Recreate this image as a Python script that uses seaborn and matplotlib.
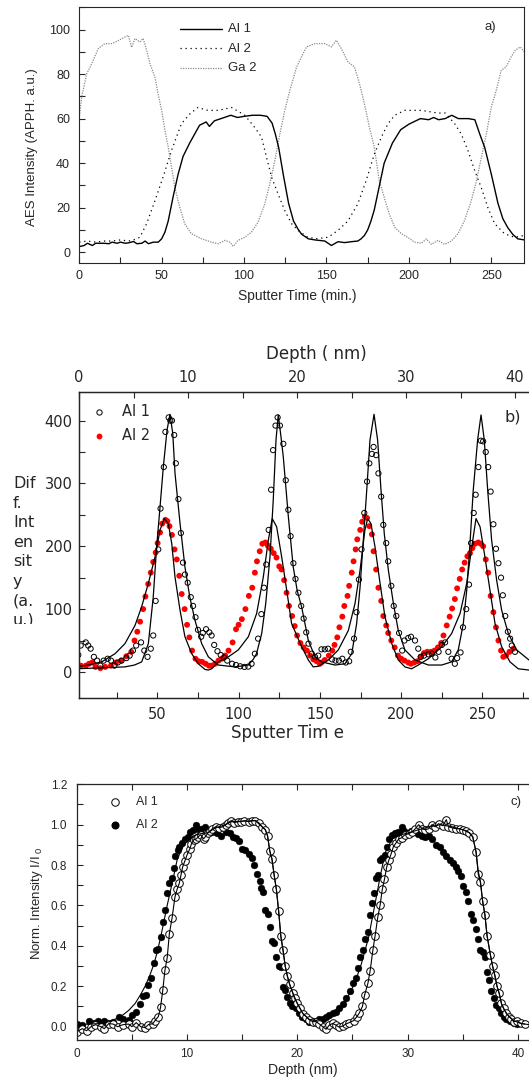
import numpy as np
import pandas as pd
import matplotlib
matplotlib.use("Agg")
import matplotlib.pyplot as plt
import seaborn as sns
from matplotlib.ticker import MultipleLocator
from matplotlib.lines import Line2D
from matplotlib.transforms import Bbox

sns.set_style("ticks")
plt.rcParams['font.family'] = ['Liberation Sans', 'DejaVu Sans']
plt.rcParams['mathtext.fontset'] = 'custom'
plt.rcParams['mathtext.rm'] = 'Liberation Sans'
plt.rcParams['mathtext.it'] = 'Liberation Sans:italic'

# ---------------- Panel a : AES intensity vs sputter time ----------------
a_al1 = [(0,2.5),(3,3),(5,4),(8,3),(10,4),(13,4),(15,4),(18,3.8),(20,4.5),(23,4),(25,4.5),(28,4),
         (30,4.2),(33,4.8),(35,3.8),(38,4),(40,5),(42,3.8),(45,4.5),(48,4.5),(50,6),(52,9),(54,14),
         (57,25),(60,35),(63,43),(67,49),(70,53),(73,57),(77,58.5),(79,56.5),(82,59),(86,60),(92,61.5),
         (96,60.5),(100,61),(105,61.5),(110,61.5),(114,61),(117,58),(119,53),(121,47),(124,34),(127,22),
         (130,14),(133,10),(135,8),(139,6),(143,5.5),(149,5),(153,3),(157,4.7),(161,4.3),(165,4.7),
         (169,5),(171,6),(173,7.5),(175,10),(177,14),(179,19),(181,26),(185,40),(190,49),(195,55),
         (200,57.5),(207,60),(212,59.5),(215,60.5),(218,59.5),(222,60),(226,61.5),(230,60),(236,60),
         (240,59.5),(243,53),(246,47),(250,35),(254,22),(257,15),(260,11),(263,8),(266,6),(270,5.5)]
a_al2 = [(0,4.5),(5,5),(10,4.5),(15,5),(20,5),(25,5.5),(30,5),(33,5.5),(36.8,6.7),(40.9,12.8),(45.9,23),
         (51,34),(56,45.7),(59,51.7),(62,57.7),(67,62),(72,65),(78,63.7),(84.3,63.7),(92.4,65),(100.5,61.5),
         (106.5,56),(110.6,51.7),(113.6,42.7),(116.7,33.7),(120.7,26),(124.7,18.7),(128.8,12.8),(132.8,9.8),
         (138,7),(143,6),(151,6.7),(157,9.8),(163,14),(169,21.7),(174,32),(179,44),(183.3,51.7),(187.3,57.7),
         (191.4,61.5),(197.5,63.7),(207.6,63.7),(217.6,62.5),(222,62.5),(227.8,57.7),(231.8,53),(235.8,45.7),
         (239.9,36.7),(243.9,29),(247.9,20),(252,12.8),(258,8.3),(264,6.7),(270,7.5)]
a_ga2 = [(0,60),(1.5,69.7),(4.5,80),(7.6,84.7),(11.6,91.5),(15.6,93.7),(19.7,93.7),(23.7,95),(27.8,96.7),
         (29.8,97.4),(31.8,92),(33.8,96),(36.8,94.4),(38.8,96),(40.9,90.7),(42.9,84.7),(45.9,78.7),(47.9,71),
         (50,63.7),(52,54.7),(54,47.2),(56,38.2),(58,29.2),(61,20.2),(64,12.8),(68,8.3),(74.2,6),(80.3,4.5),
         (84.3,3.8),(88.4,5.3),(91.4,4.5),(93.4,2.6),(96.4,5.3),(100.5,6.7),(104.5,9),(108.5,13.5),(112.6,21.7),
         (115.6,30.7),(118.7,41.2),(121.7,53),(124.7,63.7),(127.8,72.7),(131.8,83),(134.8,87.7),(137.9,92.2),
         (143,93.7),(149,93.7),(153,92.2),(156,95.2),(159,91.5),(163,85.4),(167,83.2),(170,75.7),(173,66.7),
         (176,56.2),(179,47.2),(182,32.2),(185,24.7),(188,17.3),(191.4,11.2),(195.5,8.3),(199.5,6.5),
         (203.5,4.5),(207.6,4),(210.6,6),(213.6,3.5),(217.6,5.3),(221.7,3.5),(225.8,5),(229.8,8.3),
         (233.8,14.3),(237.9,23.2),(241,32.2),(244,42.7),(247,53.2),(250,65.2),(253,72.7),(256,81.7),
         (259,83.2),(262,87.7),(264.5,90.7),(267.6,92.2),(270,90)]
a_labels = ["Al 1", "Al 2", "Ga 2"]

# ---------------- Panel b : differentiated intensity ----------------
b_al1 = [(1.4,27),(2.9,42),(6,47),(7.5,42),(9,37),(11,24),(13,18),(15,10),(17,18),(19.5,21),(21.5,18),
         (23.6,10),(25.7,15),(28,18),(31,22),(33,26),(35,34),(37,42),(40,47),(42,34),(44,24),(46,37),
         (47.5,58),(49,113),(50.6,195),(52,260),(54,326),(55,382),(57,405),(58,400),(59,400),(60.4,377),
         (61.4,332),(63,275),(64.5,221),(65.8,174),(67,155),(68.7,142),(70.6,119),(72,105),(73.5,87),
         (75,67),(77,56),(78,62),(80,68),(82,63),(83.4,58),(85,43),(87,33),(89,27),(91,23),(93,18),(96,13),
         (98.4,11),(101,9),(103.6,8),(106,8.5),(108,13),(110,29),(112,53),(114,92),(115.6,134),(117,171),
         (118.5,226),(120,290),(121.2,353),(122.7,392),(124,405),(125.4,392),(127.5,363),(129,305),
         (130.6,258),(132,216),(133.7,173),(135,148),(136.8,126),(138.5,105),(140,85),(141.6,63),(143,45),
         (145,29),(147,24),(149,26),(151,36),(153,36),(155,37),(157.5,20),(159.6,18),(161.7,18),(163.8,21),
         (165.9,15),(168,17),(169,32),(171,53),(172.5,95),(174,147),(175.6,195),(177.3,253),(179,303),
         (180.4,332),(182,347),(183,358),(184.6,345),(186,316),(187.7,279),(189,234),(190.8,205),(192,176),
         (193.9,137),(195.4,105),(197,89),(198.7,62),(200.6,34),(202,50),(204.3,54),(206,56),(208.5,50),
         (210.5,37),(212,24),(214,26),(216.8,28),(218.8,29),(221,23),(223,32),(225,43),(227,47),(229,32),
         (231,21),(233,13),(234.4,22),(236.5,31),(238,71),(240,100),(241.7,139),(243,205),(244.6,253),
         (245.8,282),(247.5,326),(249,368),(250.4,367),(252,350),(253.5,326),(255,287),(256.7,235),
         (258.3,196),(259.8,173),(261.4,150),(262.5,122),(264,89),(265.6,64),(267,53),(268,42),(270,32)]
b_al2 = [(3,10),(6,10),(8,13),(10,15),(12,8),(15,6),(18,8),(21.5,10),(24.6,15),(27.8,18),(31,25),(34,32),
         (36,50),(37.7,64),(39.4,80),(41.3,100),(42.7,120),(44.4,140),(46,158),(47.5,175),(49,190),(50.2,205),
         (51.7,222),(53,236),(55,242),(56.2,240),(57.5,232),(59,218),(60.6,195),(62,179),(63.5,153),(65,124),
         (66.8,100),(68.3,75),(69.7,55),(71.4,34),(73.5,21),(75.5,17),(77.6,16),(79.7,13),(81.8,10),
         (83.4,10),(85.5,13),(87.6,18),(89.7,21),(91.7,26),(93.8,34),(96.3,47),(98.4,68),(100,75),(102,84),
         (104.2,100),(106.3,121),(108.4,134),(110,158),(111.3,176),(113,192),(114.6,204),(116.5,206),
         (118,201),(119.8,196),(121.6,189),(123.3,182),(125,168),(126.4,163),(128,146),(129.5,126),(131,105),
         (132.9,89),(134.5,73),(136,58),(138,46),(140,39),(142,34),(144,26),(146,20),(148,17),(150,13),
         (151,15),(153,19),(155.5,26),(157.6,34),(159,43),(160.7,55),(162,71),(163.8,88),(165,105),(167,121),
         (168,137),(169.6,158),(170.7,176),(172,195),(173,211),(174.8,226),(176,239),(177.7,247),(179,245),
         (180.4,232),(182,219),(183,192),(184.6,163),(186,134),(187.7,113),(189,89),(190.8,74),(192,62),
         (193.9,50),(196,39),(198,26),(200,21),(202,18),(204.3,15),(206,13),(208,15),(210,17),(212,24),
         (214,30),(216,32),(218.4,32),(220.5,34),(222.6,39),(224.6,46),(226,58),(228,74),(229.8,88),
         (231.3,101),(233,116),(234.4,133),(236,148),(237.5,163),(239,174),(240.7,184),(242.3,189),
         (243.8,197),(245.4,204),(247.4,206),(249,204),(250.4,200),(252,179),(253.5,158),(255,121),
         (256.7,95),(258.3,71),(259.8,50),(261.4,34),(262.8,24),(264.5,26),(266.6,32),(269,37)]
b_fit1 = [(0,5),(10,6),(20,7),(30,8),(36,11),(40.4,16),(44.5,45),(47.5,119),(49.6,199),(51.7,263),
          (53.7,326),(56,385),(57.8,410),(59.5,380),(60.9,316),(64,236),(67,167),(70,119),(73.2,82),
          (77.3,45),(81.4,24),(87.5,11),(97.8,8),(106,11),(109,20),(111,29),(114.2,61),(116.7,109),
          (119.3,183),(121.3,273),(123,369),(124.4,409),(125.8,380),(127.5,342),(130.6,247),(133.6,167),
          (136,130),(138.8,103),(142.9,50),(147,24),(151,16),(159.3,11),(165.4,13),(169.6,29),(172.6,77),
          (174.7,135),(176.7,210),(178.8,289),(180.8,369),(183.3,410),(185.5,369),(187.6,289),(189.6,220),
          (192.1,162),(195.2,109),(198.2,66),(202.3,35),(208.5,19),(216.7,11),(224.9,11),(231,16),
          (235.1,35),(238.2,77),(240.3,130),(242.3,204),(244.3,289),(247,369),(249.1,409),(251.1,369),
          (253.2,289),(255.6,210),(258.7,146),(261.8,98),(265.9,61),(271,35),(278.6,19)]
b_fit2 = [(0,8),(7.6,11),(15.8,16),(24,29),(30.1,45),(36.3,74),(40.4,104),(44.5,141),(48.6,183),(51.7,226),
          (54.3,244),(56.8,236),(58.9,204),(60.9,151),(64,98),(67,56),(71.2,29),(75.2,13),(79.3,4),(81.4,3),
          (83.4,5),(87.5,16),(93.7,24),(99.8,35),(106,56),(111.1,93),(115.2,151),(118.3,210),(120.7,244),
          (123.4,231),(126.5,183),(129.6,130),(132.6,77),(138.8,40),(142.9,19),(145.9,8),(149,9),(155.2,19),
          (161.3,35),(167.5,66),(171.6,109),(174.7,162),(177.7,226),(179.4,244),(181.4,236),(183.9,199),
          (187,141),(190,88),(194.2,45),(198.2,19),(202.3,8),(206.4,5),(210.5,11),(216.7,21),(224.9,40),
          (231,61),(236.2,93),(240.3,141),(243.4,199),(246,244),(248.5,231),(251.5,183),(254.6,130),
          (257.7,77),(261.8,40),(266.9,16),(272,5),(278.6,3)]
b_labels = ["Al 1", "Al 2"]

# ---------------- Panel c : normalised intensity vs depth ----------------
c_al1 = [(0,-0.025),(0.5,-0.01),(0.9,-0.02),(1.3,0),(1.7,0.01),(2.2,0),(2.5,-0.01),(2.9,0.015),(3.3,0.013),
         (3.7,0),(4.2,0.01),(4.7,0.013),(5,0),(5.4,0.02),(5.8,0),(6.2,-0.005),(6.5,0.01),(6.9,0.015),(7.1,0.03),
         (7.4,0.05),(7.6,0.095),(7.8,0.18),(8,0.28),(8.2,0.34),(8.4,0.46),(8.65,0.54),(8.9,0.64),(9.1,0.68),
         (9.3,0.71),(9.45,0.75),(9.6,0.79),(9.8,0.82),(10,0.85),(10.25,0.88),(10.4,0.905),(10.6,0.925),
         (10.85,0.93),(11,0.94),(11.25,0.95),(11.5,0.93),(11.65,0.94),(11.9,0.96),(12.1,0.97),(12.3,0.98),
         (12.6,0.99),(12.9,0.985),(13.25,0.99),(13.5,1.0),(13.7,1.01),(14,1.02),(14.3,1.01),(14.6,1.015),
         (14.9,1.015),(15.2,1.02),(15.6,1.015),(15.9,1.02),(16.2,1.02),(16.5,1.01),(16.8,0.99),(17.1,0.975),
         (17.3,0.945),(17.5,0.87),(17.7,0.83),(17.9,0.75),(18.1,0.68),(18.3,0.575),(18.5,0.45),(18.7,0.38),
         (18.9,0.30),(19.1,0.25),(19.3,0.21),(19.6,0.165),(19.75,0.14),(20,0.115),(20.25,0.09),(20.5,0.065),
         (20.8,0.05),(21.1,0.033),(21.4,0.025),(21.7,0.025),(22,0.013),(22.3,0),(22.6,-0.013),(22.9,0.008),
         (23.2,0.016),(23.5,0.008),(23.8,-0.003),(24.1,0.003),(24.4,0.013),(24.7,0.02),(25.1,0.03),
         (25.4,0.05),(25.6,0.066),(25.9,0.1),(26.1,0.157),(26.4,0.215),(26.6,0.277),(26.85,0.38),(27.05,0.45),
         (27.3,0.545),(27.5,0.6),(27.7,0.68),(27.9,0.73),(28.1,0.79),(28.3,0.825),(28.5,0.855),(28.7,0.89),
         (28.95,0.91),(29.2,0.93),(29.45,0.935),(29.75,0.95),(30.1,0.955),(30.4,0.965),(30.7,0.98),(31,1.0),
         (31.3,0.98),(31.6,0.975),(31.9,0.98),(32.2,1.0),(32.5,0.99),(32.8,1.005),(33.2,0.995),(33.5,1.025),
         (33.7,0.99),(34,0.985),(34.4,0.98),(34.7,0.98),(35,0.975),(35.3,0.97),(35.6,0.96),(35.9,0.94),
         (36.2,0.865),(36.4,0.755),(36.6,0.715),(36.8,0.62),(37,0.555),(37.2,0.45),(37.5,0.355),(37.7,0.3),
         (37.9,0.255),(38.1,0.2),(38.3,0.165),(38.5,0.115),(38.7,0.09),(38.95,0.066),(39.2,0.05),(39.4,0.04),
         (39.6,0.025),(39.95,0.03),(40.25,0.016),(40.6,0.013)]
c_al2 = [(0,0.013),(0.5,0.008),(1.1,0.03),(1.6,0.016),(1.9,0.03),(2.5,0.03),(2.8,0.02),(3.3,0.025),(3.8,0.05),
         (4.2,0.036),(4.7,0.033),(5,0.058),(5.4,0.074),(5.7,0.112),(6,0.152),(6.3,0.157),(6.5,0.206),
         (6.75,0.243),(7,0.314),(7.2,0.38),(7.4,0.383),(7.6,0.446),(7.85,0.52),(8,0.58),(8.2,0.66),(8.4,0.71),
         (8.6,0.735),(8.8,0.784),(8.95,0.845),(9.15,0.875),(9.3,0.89),(9.55,0.91),(9.8,0.93),(10.05,0.94),
         (10.3,0.966),(10.55,0.974),(10.8,1.0),(11,0.977),(11.3,0.98),(11.6,0.99),(11.9,0.96),(12.3,0.965),
         (12.7,0.957),(13.1,0.944),(13.5,0.966),(13.9,0.957),(14.2,0.94),(14.4,0.933),(14.7,0.92),(15,0.878),
         (15.25,0.875),(15.6,0.855),(15.85,0.837),(16.1,0.8),(16.3,0.756),(16.6,0.723),(16.7,0.685),
         (16.9,0.668),(17.1,0.578),(17.3,0.56),(17.5,0.495),(17.7,0.426),(17.9,0.416),(18.1,0.343),(18.3,0.3),
         (18.5,0.297),(18.7,0.198),(18.9,0.18),(19.1,0.145),(19.3,0.116),(19.55,0.102),(19.85,0.09),
         (20.15,0.066),(20.45,0.05),(20.75,0.04),(21.05,0.025),(21.4,0.03),(21.7,0.025),(22,0.036),(22.3,0.04),
         (22.6,0.05),(22.9,0.058),(23.2,0.066),(23.5,0.074),(23.8,0.09),(24.1,0.112),(24.45,0.14),(24.75,0.178),
         (25.05,0.215),(25.3,0.24),(25.5,0.289),(25.7,0.347),(25.95,0.38),(26.15,0.432),(26.4,0.47),
         (26.55,0.553),(26.75,0.61),(26.95,0.66),(27.15,0.735),(27.3,0.75),(27.5,0.825),(27.7,0.834),
         (27.95,0.85),(28.15,0.89),(28.35,0.928),(28.6,0.95),(28.85,0.957),(29.15,0.966),(29.45,0.99),
         (29.65,0.97),(29.95,0.96),(30.3,0.97),(30.6,0.966),(30.9,0.955),(31.3,0.944),(31.6,0.94),(31.9,0.944),
         (32.2,0.928),(32.6,0.9),(32.9,0.89),(33.2,0.866),(33.5,0.845),(33.8,0.825),(34.1,0.81),(34.4,0.79),
         (34.6,0.77),(34.8,0.746),(35.05,0.697),(35.3,0.668),(35.5,0.62),(35.7,0.56),(35.95,0.528),
         (36.2,0.482),(36.35,0.432),(36.6,0.38),(36.8,0.37),(37,0.347),(37.2,0.272),(37.4,0.23),(37.6,0.178),
         (37.8,0.14),(38.05,0.107),(38.25,0.09),(38.5,0.066),(38.7,0.05),(38.95,0.036),(39.25,0.03),
         (39.6,0.02),(39.95,0.013)]
c_fit2 = [(0,0.01),(2,0.015),(3,0.025),(4,0.05),(4.7,0.08),(5.3,0.115),(5.8,0.16),(6.2,0.2),(6.6,0.25),
          (7,0.31),(7.3,0.37),(7.6,0.44),(7.9,0.52),(8.2,0.6),(8.65,0.71),(9.1,0.825),(9.5,0.88),(10,0.92),
          (10.6,0.945),(11.2,0.955),(11.9,0.96),(12.6,0.985),(13.5,1.0),(14,1.015),(16.2,1.02),(16.8,0.99),
          (17.1,0.975),(17.3,0.945),(17.5,0.87),(17.7,0.83),(17.9,0.75),(18.1,0.68),(18.3,0.575),(18.5,0.45),
          (18.7,0.38),(18.9,0.3),(19.1,0.25),(19.3,0.21),(19.6,0.165),(20,0.115),(20.5,0.065),(21.1,0.035),
          (21.7,0.03),(22.45,0.05),(23.1,0.065),(23.7,0.08),(24.2,0.11),(24.6,0.15),(25.2,0.215),(25.8,0.31),
          (26.45,0.44),(27.05,0.61),(27.5,0.74),(27.95,0.86),(28.6,0.93),(29.4,0.95),(30.4,0.965),(31,0.975),
          (32,0.99),(33,1.0),(34,0.99),(35,0.975),(35.6,0.96),(35.9,0.94),(36.2,0.865),(36.4,0.77),(36.6,0.715),
          (36.8,0.62),(37,0.555),(37.2,0.45),(37.5,0.355),(37.7,0.3),(37.9,0.255),(38.1,0.2),(38.3,0.165),
          (38.5,0.115),(38.7,0.09),(38.95,0.066),(39.2,0.05),(39.6,0.03),(40.25,0.016),(41,0.01)]
c_labels = ["Al 1", "Al 2"]


def df(pairs):
    return pd.DataFrame(pairs, columns=["x", "y"])


W, H = 529, 1080
fig = plt.figure(figsize=(W / 100, H / 100), dpi=100)


def rect(l, r, t, b):
    return [l / W, 1 - b / H, (r - l) / W, (b - t) / H]


LS = ['Liberation Sans']
DV = ['DejaVu Sans']

# ======================= Panel a =======================
axA = fig.add_axes(rect(79.2, 524.3, 7.3, 263.3))
sns.lineplot(data=df(a_ga2), x="x", y="y", ax=axA, color="#8a8a8a", linewidth=0.9,
             linestyle=(0, (1, 1)), estimator=None, sort=False)
sns.lineplot(data=df(a_al2), x="x", y="y", ax=axA, color="black", linewidth=0.9,
             linestyle=(0, (1, 3)), estimator=None, sort=False)
sns.lineplot(data=df(a_al1), x="x", y="y", ax=axA, color="black", linewidth=1.0,
             estimator=None, sort=False)
axA.set_xlim(0, 270)
axA.set_ylim(-5, 110)
axA.xaxis.set_major_locator(MultipleLocator(50))
axA.xaxis.set_minor_locator(MultipleLocator(25))
axA.yaxis.set_major_locator(MultipleLocator(20))
axA.yaxis.set_minor_locator(MultipleLocator(10))
axA.tick_params(which='both', direction='in', width=0.8, top=False, right=False, labelsize=9)
axA.tick_params(which='major', length=4)
axA.tick_params(which='minor', length=4)
axA.tick_params(axis='y', pad=6.5)
axA.tick_params(axis='x', pad=5)
axA.set_xlabel("Sputter Time (min.)", fontsize=10)
axA.set_ylabel("AES Intensity (APPH. a.u.)", fontsize=9.5)
axA.xaxis.label.set_va('center')
axA.yaxis.label.set_va('center')
axA.xaxis.set_label_coords(0.489, -0.128)
axA.yaxis.set_label_coords(-0.106, 0.455)
for s in axA.spines.values():
    s.set_linewidth(0.8)
# legend a
styles_a = [dict(color="black", lw=1.0, ls='-'),
            dict(color="black", lw=0.9, ls=(0, (1, 3))),
            dict(color="#8a8a8a", lw=0.9, ls=(0, (1, 1)))]
for i, (lab, st) in enumerate(zip(a_labels, styles_a)):
    yy = (263.3 - (29 + 19.5 * i)) / 256.0
    axA.add_line(Line2D([(180 - 79.2) / 445.1, (222 - 79.2) / 445.1], [yy, yy],
                        transform=axA.transAxes, **st))
    axA.text((228 - 79.2) / 445.1, yy, lab, transform=axA.transAxes, va='center',
             ha='left', fontsize=9.5)
axA.text((490 - 79.2) / 445.1, (263.3 - 27) / 256.0, "a)", transform=axA.transAxes,
         ha='center', va='center', fontsize=9.5)

# ======================= Panel b =======================
axB = fig.add_axes(rect(79, 529, 392.3, 697.7))
sns.lineplot(data=df(b_fit1), x="x", y="y", ax=axB, color="black", linewidth=0.9,
             estimator=None, sort=False)
sns.lineplot(data=df(b_fit2), x="x", y="y", ax=axB, color="black", linewidth=0.9,
             estimator=None, sort=False)
sns.scatterplot(data=df(b_al2), x="x", y="y", ax=axB, color="#ff0000", s=18,
                edgecolor="none", linewidth=0)
sns.scatterplot(data=df(b_al1), x="x", y="y", ax=axB, facecolor="none", edgecolor="black",
                s=14, linewidth=0.7)
axB.set_xlim(1.85, 278.6)
axB.set_ylim(-41, 445)
axB.xaxis.set_major_locator(MultipleLocator(50))
axB.xaxis.set_minor_locator(MultipleLocator(25))
axB.yaxis.set_major_locator(MultipleLocator(100))
axB.yaxis.set_minor_locator(MultipleLocator(50))
axB.tick_params(which='both', direction='in', width=0.8, top=False, right=False, labelsize=10.5)
axB.tick_params(which='both', length=4)
axB.tick_params(axis='y', pad=4.5)
axB.tick_params(axis='x', pad=6.5)
for lab in axB.get_xticklabels() + axB.get_yticklabels():
    lab.set_family(DV)
axB.spines['right'].set_visible(False)
for s in axB.spines.values():
    s.set_linewidth(1.0)
axB.set_xlabel("Sputter Tim e", fontsize=12, family=DV)
axB.set_ylabel("")
axB.xaxis.label.set_va('center')
axB.xaxis.set_label_coords((287.5 - 79) / 450, (697.7 - 733) / 305.4)
axBt = axB.twiny()
axBt.set_xlim(0, 41.28)
axBt.xaxis.set_major_locator(MultipleLocator(10))
axBt.xaxis.set_minor_locator(MultipleLocator(5))
axBt.tick_params(which='both', direction='in', width=0.8, length=4, labelsize=10.5, pad=5)
for lab in axBt.get_xticklabels():
    lab.set_family(DV)
axBt.spines['right'].set_visible(False)
axBt.set_xlabel("Depth ( nm)", fontsize=12, family=DV)
axBt.xaxis.label.set_va('center')
axBt.xaxis.set_label_coords((316 - 79) / 450, (697.7 - 354) / 305.4)
# legend b
bx = lambda px: (px - 79) / 450.0
by = lambda py: (697.7 - py) / 305.4
axB.add_line(Line2D([bx(99)], [by(411.7)], transform=axB.transAxes, marker='o', ls='none',
                    markersize=3.8, markerfacecolor='none', markeredgecolor='black',
                    markeredgewidth=0.7))
axB.add_line(Line2D([bx(99)], [by(435.7)], transform=axB.transAxes, marker='o', ls='none',
                    markersize=4.2, markerfacecolor='#ff0000', markeredgecolor='none'))
axB.text(bx(122), by(411.7), b_labels[0], transform=axB.transAxes, va='center', ha='left',
         fontsize=10.5, family=DV)
axB.text(bx(122), by(435.7), b_labels[1], transform=axB.transAxes, va='center', ha='left',
         fontsize=10.5, family=DV)
axB.text(bx(513), by(417), "b)", transform=axB.transAxes, va='center', ha='center',
         fontsize=11.5, family=DV)
# multi-line y label (clipped at the bottom like the original)
ylab = fig.text(13 / W, 1 - 476 / H, "Dif\nf.\nInt\nen\nsit\ny\n(a.\nu.)", ha='left', va='top',
                fontsize=11.5, family=DV, linespacing=1.38)
ylab.set_clip_box(Bbox([[0, H - 624], [78, H - 470]]))
ylab.set_clip_on(True)

# ======================= Panel c =======================
axC = fig.add_axes(rect(76.7, 529, 784.3, 1040))
sns.lineplot(data=df(c_fit2), x="x", y="y", ax=axC, color="black", linewidth=0.8,
             estimator=None, sort=False)
sns.lineplot(data=df(c_al1), x="x", y="y", ax=axC, color="black", linewidth=0.8,
             estimator=None, sort=False)
sns.scatterplot(data=df(c_al2), x="x", y="y", ax=axC, color="black", s=24,
                edgecolor="black", linewidth=0.3)
sns.scatterplot(data=df(c_al1), x="x", y="y", ax=axC, facecolor="white", edgecolor="black",
                s=30, linewidth=0.7)
axC.set_xlim(0, 41.0)
axC.set_ylim(-0.066, 1.2)
axC.xaxis.set_major_locator(MultipleLocator(10))
axC.xaxis.set_minor_locator(MultipleLocator(5))
axC.yaxis.set_major_locator(MultipleLocator(0.2))
axC.yaxis.set_minor_locator(MultipleLocator(0.1))
axC.yaxis.set_major_formatter(matplotlib.ticker.FormatStrFormatter('%.1f'))
axC.tick_params(which='both', direction='in', width=0.8, length=4, top=True, right=False,
                labeltop=False, labelsize=8.5)
axC.tick_params(axis='y', pad=7)
axC.tick_params(axis='x', pad=5.5)
axC.spines['right'].set_visible(False)
for s in axC.spines.values():
    s.set_linewidth(0.9)
axC.set_xlabel("Depth (nm)", fontsize=10)
axC.set_ylabel(r"Norm. Intensity I/I$_{\ 0}$", fontsize=9.5)
axC.xaxis.label.set_va('center')
axC.yaxis.label.set_va('center')
axC.xaxis.set_label_coords((303 - 76.7) / 452.3, (1040 - 1070) / 255.7)
axC.yaxis.set_label_coords((36.7 - 76.7) / 452.3, (1040 - 903) / 255.7)
cx = lambda px: (px - 76.7) / 452.3
cy = lambda py: (1040 - py) / 255.7
axC.add_line(Line2D([cx(115)], [cy(802)], transform=axC.transAxes, marker='o', ls='none',
                    markersize=5.4, markerfacecolor='white', markeredgecolor='black',
                    markeredgewidth=0.7))
axC.add_line(Line2D([cx(115)], [cy(825)], transform=axC.transAxes, marker='o', ls='none',
                    markersize=4.8, markerfacecolor='black', markeredgecolor='black'))
axC.text(cx(136), cy(802), c_labels[0], transform=axC.transAxes, va='center', ha='left',
         fontsize=9)
axC.text(cx(136), cy(825), c_labels[1], transform=axC.transAxes, va='center', ha='left',
         fontsize=9)
axC.text(cx(516), cy(802), "c)", transform=axC.transAxes, va='center', ha='center', fontsize=9.5)

for ax in (axA, axB, axC):
    leg = ax.get_legend()
    if leg is not None:
        leg.remove()

fig.savefig("out.png", dpi=100)
